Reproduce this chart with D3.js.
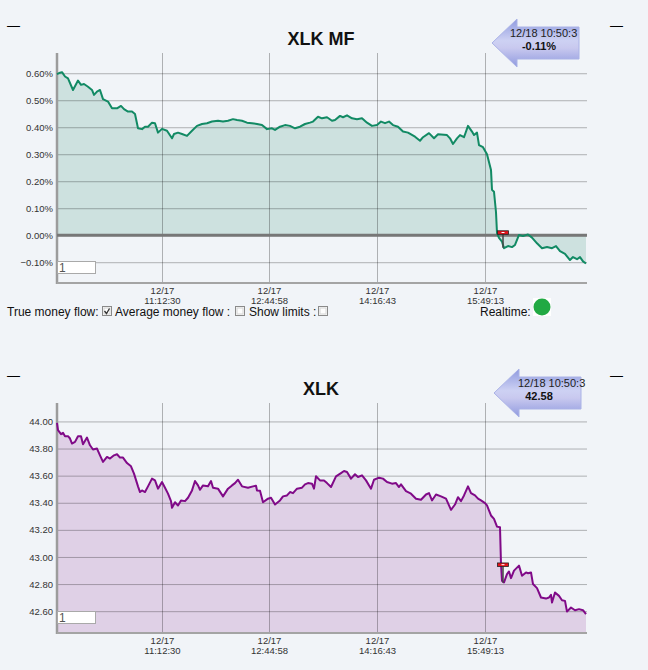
<!DOCTYPE html>
<html>
<head>
<meta charset="utf-8">
<script src="https://cdn.jsdelivr.net/npm/d3@7"></script>
<style>
body { margin: 0; background: #f1f4f8; }
svg { display: block; font-family: "Liberation Sans", Arial, sans-serif; }
</style>
</head>
<body>
<svg id="area" width="648" height="670"></svg>
<script>
// sample number along the feed, money flow in %
const mfT = [0,3,5,8,11,16,21,24,27,31,
  35,37,40,43,46,51,55,60,64,67,
  71,75,78,81,85,88,91,95,98,101,
  105,110,115,117,121,125,130,135,140,145,
  150,155,161,166,171,176,180,185,190,195,
  200,205,210,215,218,223,228,233,238,243,
  248,253,256,261,265,270,275,278,283,286,
  290,295,300,305,310,315,320,324,328,332,
  336,341,346,351,358,363,366,372,377,381,
  390,393,396,400,403,407,411,415,417,420,
  422,426,430,434,435,437,439,440,442,445,
  447,451,455,458,462,466,471,475,480,485,
  490,495,499,503,508,513,516,520,523,526,
  529];
const mfV = [0.597,0.602,0.604,0.588,0.581,0.538,0.573,0.557,0.560,0.550,
  0.538,0.520,0.532,0.538,0.504,0.495,0.470,0.470,0.479,0.467,
  0.458,0.458,0.449,0.396,0.393,0.402,0.402,0.417,0.415,0.380,
  0.394,0.387,0.359,0.375,0.380,0.375,0.368,0.387,0.405,0.412,
  0.415,0.421,0.424,0.421,0.424,0.430,0.427,0.424,0.417,0.415,
  0.412,0.408,0.393,0.396,0.390,0.402,0.408,0.405,0.396,0.402,
  0.412,0.417,0.421,0.439,0.433,0.437,0.424,0.427,0.442,0.437,
  0.444,0.433,0.430,0.433,0.417,0.405,0.408,0.421,0.415,0.421,
  0.408,0.402,0.384,0.380,0.365,0.350,0.363,0.378,0.359,0.374,
  0.371,0.359,0.338,0.359,0.371,0.363,0.405,0.384,0.371,0.380,
  0.334,0.326,0.300,0.242,0.168,0.161,0.085,0.008,-0.010,-0.024,
  -0.048,-0.040,-0.044,-0.036,0.001,-0.003,0.003,-0.009,-0.030,-0.048,
  -0.044,-0.048,-0.040,-0.059,-0.069,-0.092,-0.081,-0.089,-0.081,-0.097,
  -0.105];

// sample number along the feed, XLK price
const pxT = [0,1,4,6,8,11,13,15,18,21,
  24,26,30,33,36,40,43,46,50,53,
  57,60,63,66,70,74,77,81,83,85,
  88,91,95,98,101,105,108,111,114,115,
  118,121,124,128,131,135,138,141,143,146,
  151,154,156,161,166,171,175,178,181,185,
  191,196,199,200,203,206,211,214,218,223,
  226,230,233,236,240,245,248,251,255,257,
  259,263,267,270,274,279,284,287,290,294,
  298,301,305,309,314,317,322,326,330,335,
  339,342,344,349,354,359,364,369,372,375,
  379,384,389,394,398,401,404,407,411,414,
  418,421,424,428,430,434,437,440,443,444,
  445,447,450,452,454,457,462,465,469,471,
  474,476,480,484,489,492,494,495,498,502,
  505,508,510,514,518,522,526,529];
const pxV = [43.990,43.936,43.906,43.916,43.891,43.891,43.874,43.837,43.849,43.891,
  43.891,43.832,43.881,43.824,43.793,43.800,43.750,43.701,43.738,43.726,
  43.750,43.758,43.733,43.733,43.693,43.669,43.615,43.521,43.479,43.491,
  43.479,43.521,43.578,43.565,43.504,43.553,43.511,43.467,43.412,43.363,
  43.404,43.380,43.417,43.412,43.437,43.491,43.560,43.528,43.496,43.528,
  43.521,43.560,43.511,43.504,43.447,43.504,43.528,43.545,43.570,43.521,
  43.511,43.521,43.526,43.491,43.488,43.404,43.430,43.437,43.387,43.417,
  43.447,43.454,43.479,43.471,43.504,43.511,43.536,43.545,43.541,43.504,
  43.595,43.565,43.565,43.545,43.516,43.595,43.619,43.634,43.627,43.578,
  43.610,43.590,43.602,43.565,43.504,43.570,43.585,43.578,43.553,43.541,
  43.545,43.516,43.536,43.486,43.467,43.430,43.422,43.461,43.471,43.417,
  43.461,43.447,43.430,43.348,43.387,43.441,43.412,43.454,43.521,43.471,
  43.454,43.430,43.417,43.397,43.380,43.306,43.281,43.224,43.219,42.948,
  42.824,42.812,42.874,42.893,42.844,42.899,42.936,42.861,42.886,42.880,
  42.886,42.800,42.770,42.701,42.693,42.701,42.721,42.664,42.738,42.713,
  42.681,42.676,42.597,42.627,42.607,42.615,42.607,42.578];

const tickT = [105, 212, 320, 428];
const tickDate = ["12/17", "12/17", "12/17", "12/17"];
const tickTime = ["11:12:30", "12:44:58", "14:16:43", "15:49:13"];
const mfTicks = [-0.1, 0, 0.1, 0.2, 0.3, 0.4, 0.5, 0.6];
const pxTicks = [42.6, 42.8, 43.0, 43.2, 43.4, 43.6, 43.8, 44.0];

// day-change marker: sample, [marker value, low after the open]
const gapT = 446;
const mfGap = [0.009, -0.046];
const pxGap = [42.941, 42.81];

const lastStamp = "12/18 10:50:3";
const mfLast = "-0.11%";
const pxLast = "42.58";

const svg = d3.select("#area");
const x = d3.scaleLinear().domain([0, 530]).range([57, 587]);

const defs = svg.append("defs");
const grad = defs.append("linearGradient").attr("id", "callout")
  .attr("x1", 0).attr("y1", 0).attr("x2", 0).attr("y2", 1);
grad.append("stop").attr("offset", "0%").attr("stop-color", "#8f9adf");
grad.append("stop").attr("offset", "45%").attr("stop-color", "#cdd1f3");
grad.append("stop").attr("offset", "60%").attr("stop-color", "#c9c9ef");
grad.append("stop").attr("offset", "100%").attr("stop-color", "#8f9adf");

function panel(o) {
  const top = 53 + o.off, bot = 283 + o.off;
  const g = svg.append("g");
  const y = d3.scaleLinear().domain(o.domain).range([bot, top]);
  const pts = d3.zip(o.t, o.v);

  // title + little dashes
  g.append("text").attr("x", 321).attr("y", 45 + o.off).attr("text-anchor", "middle")
    .attr("font-size", 18).attr("font-weight", "bold").attr("fill", "#111").text(o.title);
  g.append("text").attr("x", 7).attr("y", 30 + o.off).attr("font-size", 13).text("—");
  g.append("text").attr("x", 610).attr("y", 30 + o.off).attr("font-size", 13).text("—");

  // filled area
  const base = o.zeroBase ? y(0) : bot;
  g.append("path").datum(pts)
    .attr("d", d3.area().x(d => x(d[0])).y0(base).y1(d => y(d[1])))
    .attr("fill", o.fill);

  // grid
  const gy = g.append("g").attr("transform", "translate(57,0)")
    .call(d3.axisLeft(y).tickValues(o.ticks).tickSize(-530).tickPadding(4).tickFormat(o.fmt));
  gy.attr("font-family", null).attr("font-size", 9.5);
  gy.select(".domain").remove();
  gy.selectAll(".tick line").attr("stroke", "rgba(0,0,0,0.28)");
  gy.selectAll(".tick text").attr("fill", "#333");

  const gx = g.append("g").attr("transform", `translate(0,${bot})`)
    .call(d3.axisBottom(x).tickValues(tickT).tickSize(-230).tickFormat(""));
  gx.attr("font-family", null).attr("font-size", 9.5);
  gx.select(".domain").remove();
  gx.selectAll(".tick line").attr("stroke", "rgba(0,0,0,0.28)");
  gx.selectAll(".tick text").each(function (d, i) {
    const t = d3.select(this).attr("y", null).attr("dy", null).attr("fill", "#333");
    t.append("tspan").attr("x", 0).attr("y", 11).text(tickDate[i]);
    t.append("tspan").attr("x", 0).attr("y", 21).text(tickTime[i]);
  });

  // axis lines
  g.append("line").attr("x1", 57).attr("x2", 57).attr("y1", top).attr("y2", bot + 1)
    .attr("stroke", "#9c9c9c").attr("stroke-width", 2.5);
  g.append("line").attr("x1", 57).attr("x2", 587).attr("y1", bot).attr("y2", bot)
    .attr("stroke", "#a4a4a4").attr("stroke-width", 2);
  if (o.zeroBase) {
    g.append("line").attr("x1", 57).attr("x2", 587).attr("y1", y(0)).attr("y2", y(0))
      .attr("stroke", "#777").attr("stroke-width", 3);
  }

  // series line
  g.append("path").datum(pts)
    .attr("d", d3.line().x(d => x(d[0])).y(d => y(d[1])))
    .attr("fill", "none").attr("stroke", o.stroke).attr("stroke-width", 2)
    .attr("stroke-linejoin", "round");

  // day-change marker
  g.append("line").attr("x1", x(gapT)).attr("x2", x(gapT))
    .attr("y1", y(o.gap[0])).attr("y2", y(o.gap[1]))
    .attr("stroke", "#444").attr("stroke-width", 1.5);
  g.append("rect").attr("x", x(gapT) - 5.5).attr("y", y(o.gap[0]) - 2)
    .attr("width", 11).attr("height", 3.5)
    .attr("fill", "#e8121b").attr("stroke", "#222").attr("stroke-width", 0.8);
  g.append("rect").attr("x", x(gapT) - 1.5).attr("y", y(o.gap[0]) - 0.8)
    .attr("width", 3).attr("height", 1).attr("fill", "#fff");

  // little input box
  g.append("rect").attr("x", 57.5).attr("y", 261.5 + o.off).attr("width", 38).attr("height", 12)
    .attr("fill", "#fff").attr("stroke", "#a9a9a9");
  g.append("text").attr("x", 59).attr("y", 272 + o.off).attr("font-size", 12)
    .attr("fill", "#555").text("1");

  // last-value callout arrow
  const a = o.arrow;
  g.append("path")
    .attr("d", `M${a[0]},${a[1]} L${a[0] + 25},${a[1] - 24} L${a[0] + 25},${a[1] - 16}
      L${a[2]},${a[1] - 16} L${a[2]},${a[1] + 16} L${a[0] + 25},${a[1] + 16}
      L${a[0] + 25},${a[1] + 24} Z`)
    .attr("fill", "url(#callout)").attr("stroke", "#aab2e6").attr("stroke-width", 1);
  g.append("text").attr("x", o.stampX).attr("y", 36.7 + o.off).attr("font-size", 11)
    .attr("fill", "#222").text(lastStamp);
  g.append("text").attr("x", 539).attr("y", 50 + o.off).attr("font-size", 11)
    .attr("font-weight", "bold").attr("text-anchor", "middle").attr("fill", "#111").text(o.last);
}

panel({
  off: 0, title: "XLK MF", domain: [-0.177, 0.675], ticks: mfTicks,
  fmt: d => d3.format(".2f")(d) + "%", t: mfT, v: mfV, zeroBase: true,
  stroke: "#128a64", fill: "#cde1df", gap: mfGap, last: mfLast,
  arrow: [492, 43, 579], stampX: 510
});
panel({
  off: 350, title: "XLK", domain: [42.439, 44.136], ticks: pxTicks,
  fmt: d3.format(".2f"), t: pxT, v: pxV, zeroBase: false,
  stroke: "#800a88", fill: "#dfd0e6", gap: pxGap, last: pxLast,
  arrow: [494, 393, 581], stampX: 518
});

// controls row under the money flow panel
const ctl = svg.append("g").attr("font-size", 12).attr("fill", "#111");
ctl.append("text").attr("x", 7).attr("y", 316).text("True money flow:");
ctl.append("text").attr("x", 115).attr("y", 316).text("Average money flow :");
ctl.append("text").attr("x", 249).attr("y", 316).text("Show limits :");
ctl.append("text").attr("x", 480).attr("y", 316).text("Realtime:");

[102.5, 235.5, 318.5].forEach((bx, i) => {
  ctl.append("rect").attr("x", bx).attr("y", 306.5).attr("width", 9).attr("height", 9)
    .attr("fill", "#fdfdfd").attr("stroke", "#8a8a8a");
  ctl.append("rect").attr("x", bx + 1.5).attr("y", 308).attr("width", 6).attr("height", 6)
    .attr("fill", "none").attr("stroke", "#d4d4d4");
  if (i === 0) {
    ctl.append("path").attr("d", `M${bx + 2},${311} l2,2.5 l3,-5`)
      .attr("fill", "none").attr("stroke", "#333").attr("stroke-width", 1.3);
  }
});

ctl.append("rect").attr("x", 533).attr("y", 298).attr("width", 18).attr("height", 18).attr("fill", "#fff");
ctl.append("circle").attr("cx", 542).attr("cy", 307).attr("r", 8.5).attr("fill", "#21a943");
</script>
</body>
</html>
